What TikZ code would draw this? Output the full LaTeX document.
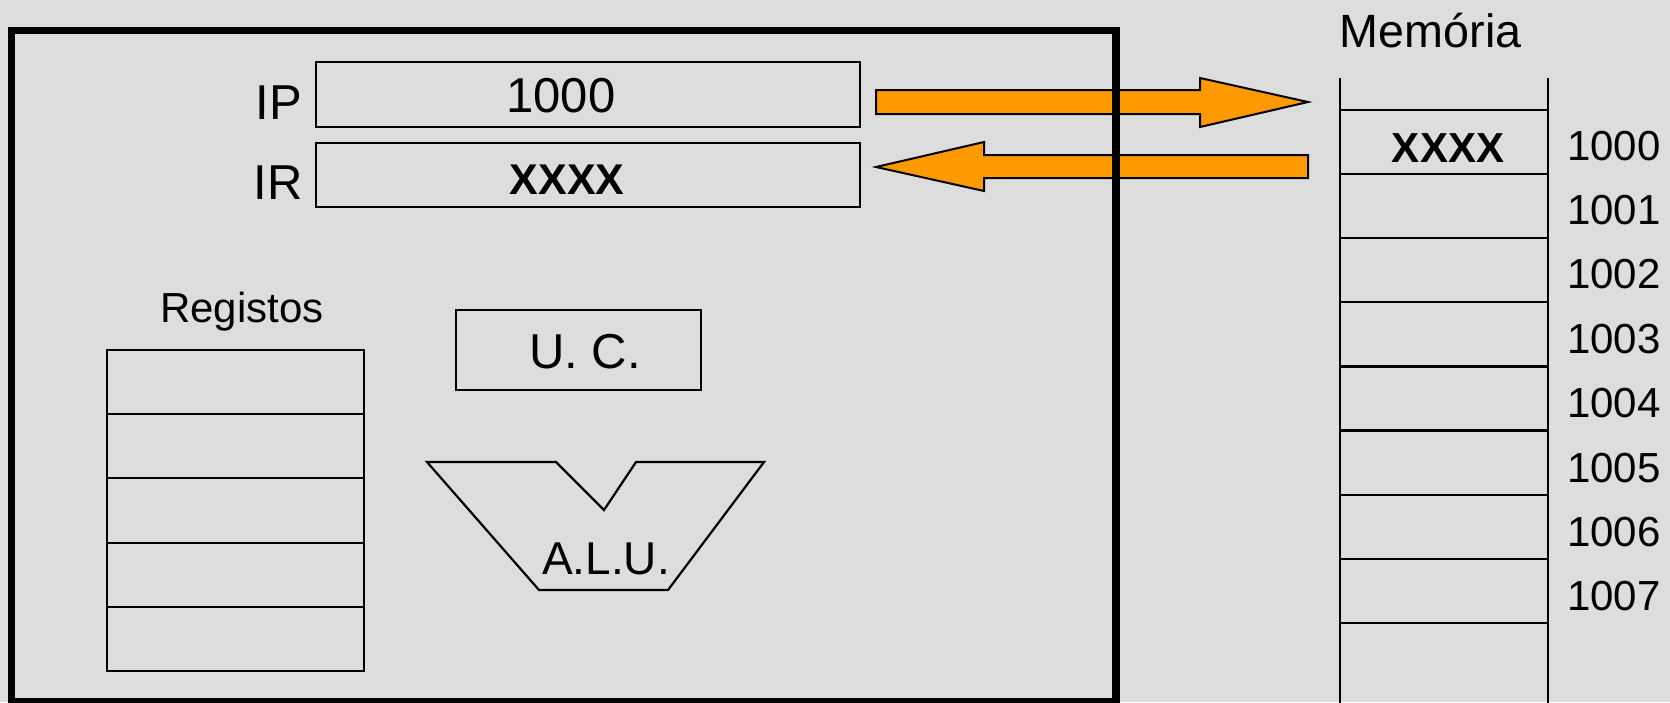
\documentclass[tikz,border=0pt]{standalone}
\usepackage{fontspec}
\setmainfont{Liberation Sans}
\definecolor{bg}{HTML}{DDDDDD}
\definecolor{arroworange}{HTML}{FF9900}
\tikzset{
  thinline/.style={line width=2.2pt},
  regbox/.style={draw, line width=2.2pt},
  lbl/.style={inner sep=0pt, anchor=base},
  bigtxt/.style={font=\fontsize{49}{58}\selectfont},
  midtxt/.style={font=\fontsize{42}{50}\selectfont},
  boldtxt/.style={font=\fontsize{43}{50}\selectfont\bfseries},
  bigarrow/.style={draw, line width=2pt, fill=arroworange, line join=miter},
}
\begin{document}
\begin{tikzpicture}[x=1pt,y=-1pt]
\fill[bg] (0,0) rectangle (1670,702);
\useasboundingbox (0,0) rectangle (1670,702);

% registers IP / IR
\draw[regbox] (316,62) rectangle (860,127);
\draw[regbox] (316,143) rectangle (860,207);
\node[lbl, bigtxt, anchor=base east] (ip) at (302,119) {IP};
\node[lbl, bigtxt, anchor=base east] (ir) at (303,199) {IR};
\node[lbl, bigtxt] (ipval) at (561,112) {1000};
\node[lbl, boldtxt] (irval) at (567,194) {XXXX};

% arrows
\draw[bigarrow] (876,90) -- (1200,90) -- (1200,78) -- (1308,102) -- (1200,127) -- (1200,114) -- (876,114) -- cycle;
\draw[bigarrow] (876,167) -- (984,142) -- (984,155) -- (1308,155) -- (1308,178) -- (984,178) -- (984,191) -- cycle;

% CPU box
\draw[line width=7.5pt] (11.5,30.5) rectangle (1116,701.5);

% register file
\node[lbl, midtxt] (regs) at (242,322) {Registos};
\draw[regbox] (107,350) rectangle (364,671);
\foreach \y in {414,478,543,607} \draw[thinline] (107,\y) -- (364,\y);

% control unit
\draw[regbox] (456,310) rectangle (701,390);
\node[lbl, bigtxt] (uc) at (585,368) {U. C.};

% ALU
\draw[thinline, line join=miter] (427,462) -- (556,462) -- (604,510) -- (636,462) -- (764,462) -- (668,590) -- (539,590) -- cycle;
\node[lbl, font=\fontsize{46}{54}\selectfont] (alu) at (606,574) {A.L.U.};

% memory
\node[lbl, font=\fontsize{46.7}{56}\selectfont, anchor=base west] (mem) at (1339.5,47) {Memória};
\draw[thinline] (1340,78) -- (1340,706);
\draw[thinline] (1548,78) -- (1548,706);
\foreach \i in {0,...,8} \draw[thinline] (1340,{110+64.1*\i}) -- (1548,{110+64.1*\i});
\node[lbl, font=\fontsize{42}{50}\selectfont\bfseries] (memx) at (1448,162) {XXXX};
\foreach \i/\t in {0/1000,1/1001,2/1002,3/1003,4/1004,5/1005,6/1006,7/1007}
  \node[lbl, midtxt, anchor=base west] (addr\i) at (1567,{160+64.4*\i}) {\t};
\end{tikzpicture}
\end{document}
